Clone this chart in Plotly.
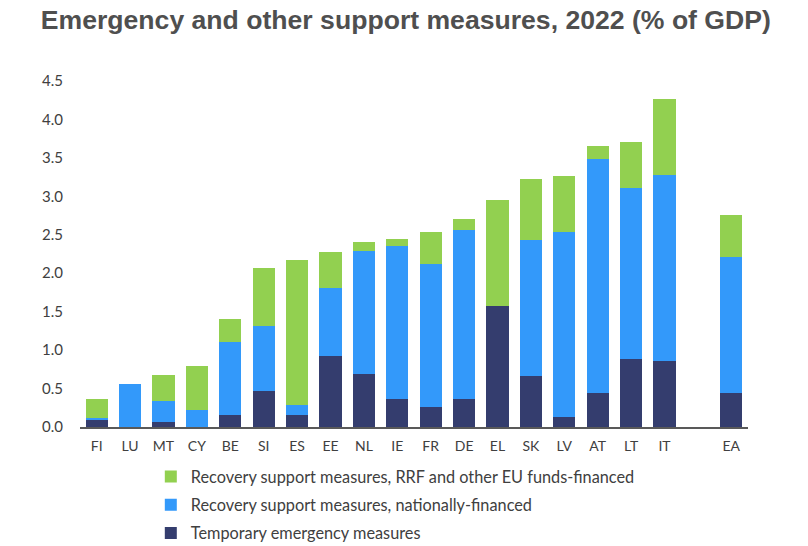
import plotly.graph_objects as go

# countries, with an empty slot before the euro area aggregate
countries = ["FI", "LU", "MT", "CY", "BE", "SI", "ES", "EE", "NL", "IE",
             "FR", "DE", "EL", "SK", "LV", "AT", "LT", "IT", " ", "EA"]

# % of GDP
temporary = [0.10, 0.00, 0.07, 0.00, 0.15, 0.47, 0.16, 0.92, 0.69, 0.36,
             0.26, 0.36, 1.57, 0.66, 0.13, 0.44, 0.88, 0.86, None, 0.44]
national = [0.02, 0.56, 0.27, 0.22, 0.95, 0.84, 0.13, 0.89, 1.60, 2.00,
            1.86, 2.20, 0.00, 1.77, 2.40, 3.04, 2.23, 2.42, None, 1.77]
rrf_eu = [0.24, 0.00, 0.34, 0.57, 0.30, 0.76, 1.88, 0.47, 0.12, 0.08,
          0.41, 0.14, 1.38, 0.79, 0.74, 0.18, 0.60, 0.99, None, 0.55]

series_names = ["Temporary emergency measures",
                "Recovery support measures, nationally-financed",
                "Recovery support measures, RRF and other EU funds-financed"]
colors = ["#343D6E", "#3399FA", "#92D050"]

fig = go.Figure()
for i, (vals, name, col) in enumerate(zip([temporary, national, rrf_eu], series_names, colors)):
    # stacked bottom-up, but listed top-down in the legend
    fig.add_trace(go.Bar(x=countries, y=vals, name=name, marker_color=col,
                         marker_line_width=0, legendgroup=str(i),
                         legendrank=3 - i))

# page body has an 8px margin; extra height below is off-screen white space
H = 570
fig.update_layout(
    width=800, height=H,
    barmode="stack", bargap=0.33,
    paper_bgcolor="white", plot_bgcolor="white",
    margin=dict(l=72, r=60, t=73, b=151),
    font=dict(family="Lato, Open Sans, sans-serif", size=15, color="#404040"),
    title=dict(text="<b>Emergency and other support measures, 2022 (% of GDP)</b>",
               x=0.041, xanchor="left", y=1 - 12 / H, yanchor="middle",
               font=dict(family="Liberation Sans, Arial, sans-serif", size=26.6,
                         color="#4F4F4F")),
    legend=dict(orientation="v", traceorder="grouped", x=0.106, xanchor="left",
                y=-0.094, yanchor="top", font=dict(size=16.3, color="#404040"),
                itemwidth=30, tracegroupgap=4),
    showlegend=True,
)
fig.update_xaxes(showline=True, linecolor="#595959", linewidth=1.5,
                 ticks="", showgrid=False, tickfont=dict(size=14),
                 ticklabelstandoff=5)
fig.update_yaxes(range=[0, 4.5], dtick=0.5, tickformat=".1f", showgrid=False,
                 showline=False, zeroline=False, ticks="", ticklabelstandoff=16,
                 tickfont=dict(size=15))

fig.write_html("out.html")
